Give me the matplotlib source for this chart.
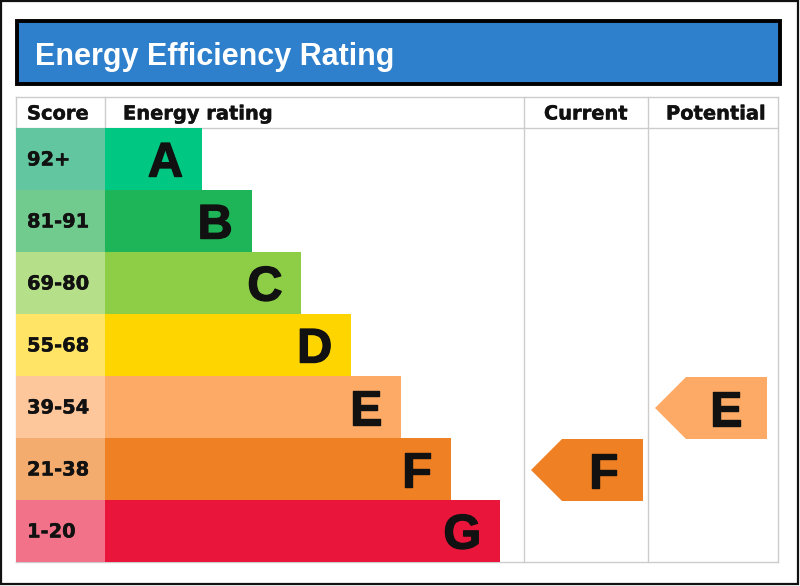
import matplotlib
matplotlib.use("Agg")
import matplotlib.pyplot as plt
from matplotlib.patches import Rectangle, Polygon
import matplotlib.patheffects as pe

# ---- data ----
ratings = ["A", "B", "C", "D", "E", "F", "G"]
score_ranges = ["92+", "81-91", "69-80", "55-68", "39-54", "21-38", "1-20"]
bar_colors = ["#00C781", "#1DB557", "#8DCE46", "#FFD500", "#FCAA65", "#EF8023", "#E9153B"]
score_colors = ["#62C6A0", "#72CB8E", "#B5DF89", "#FFE466", "#FDC69B", "#F4AC6E", "#F27289"]
current_rating = "F"
potential_rating = "E"
title = "Energy Efficiency Rating"
headers = ["Score", "Energy rating", "Current", "Potential"]

# ---- layout (pixels) ----
W, H = 800, 586
fig = plt.figure(figsize=(W / 100, H / 100), dpi=100)
ax = fig.add_axes([0, 0, 1, 1])
ax.set_xlim(0, W)
ax.set_ylim(H, 0)
ax.axis("off")

BOLD = "DejaVu Sans"
ARIAL = "Liberation Sans"
TXT = "#111111"
thick_small = [pe.withStroke(linewidth=0.3, foreground=TXT)]
thick_big = [pe.withStroke(linewidth=1.0, foreground=TXT)]

# outer frame
ax.add_patch(Rectangle((1, 1), W - 3, H - 3, fill=False, ec="#111111", lw=1.6))

# title box
ax.add_patch(Rectangle((16.5, 20.5), 763, 63, fc="#2E7FCC", ec="black", lw=2.8))
ax.text(35, 53, title, color="white", fontsize=22, fontweight="bold",
        family=ARIAL, va="center_baseline", ha="left")

# table geometry
tx0, tx1 = 16, 778
hy0, hy1 = 97, 128
row_h = 62
col_score_end = 105
col_cur = 524
col_pot = 648
ty1 = hy1 + row_h * len(ratings)
grid = "#CCCCCC"

# header text
hy = (hy0 + hy1) / 2 + 1.5
hfs = 14
ax.text(27, hy, headers[0], fontsize=hfs, fontweight="bold", family=BOLD, va="center", ha="left",
        color=TXT, path_effects=thick_small)
ax.text(123, hy, headers[1], fontsize=hfs, fontweight="bold", family=BOLD, va="center", ha="left",
        color=TXT, path_effects=thick_small)
ax.text((col_cur + col_pot) / 2, hy, headers[2], fontsize=hfs, fontweight="bold", family=BOLD,
        va="center", ha="center", color=TXT, path_effects=thick_small)
ax.text((col_pot + tx1) / 2 + 3, hy, headers[3], fontsize=hfs, fontweight="bold", family=BOLD,
        va="center", ha="center", color=TXT, path_effects=thick_small)

# bars
centers = [hy1 + row_h * (i + 0.5) for i in range(len(ratings))]
widths = [97 + 49.7 * i for i in range(len(ratings))]
ax.barh(centers, [col_score_end - tx0] * len(ratings), left=tx0, height=row_h,
        color=score_colors, edgecolor="none", zorder=2)
ax.barh(centers, widths, left=col_score_end, height=row_h,
        color=bar_colors, edgecolor="none", zorder=2)

cap = 35
for i, (r, s) in enumerate(zip(ratings, score_ranges)):
    ax.text(27, centers[i] + 1, s, fontsize=14, fontweight="bold", family=BOLD,
            va="center", ha="left", color=TXT, zorder=4, path_effects=thick_small)
    ax.text(col_score_end + widths[i] - 19, centers[i] + cap / 2, r, fontsize=35,
            fontweight="bold", family=ARIAL, va="baseline", ha="right", color=TXT, zorder=4,
            path_effects=thick_big)

# grid lines
lw = 1.0
ax.plot([tx0, tx1], [hy0, hy0], color=grid, lw=lw, zorder=1)
ax.plot([tx0, tx1], [hy1, hy1], color=grid, lw=lw, zorder=1)
ax.plot([tx0, tx1], [ty1, ty1], color=grid, lw=lw, zorder=1)
ax.plot([tx0, tx0], [hy0, ty1], color=grid, lw=lw, zorder=1)
ax.plot([col_score_end, col_score_end], [hy0, hy1], color=grid, lw=lw, zorder=1)
for x in (col_cur, col_pot, tx1):
    ax.plot([x, x], [hy0, ty1], color=grid, lw=lw, zorder=1)


def arrow(rating, x_tip, x_right):
    i = ratings.index(rating)
    top = hy1 + row_h * i + 1
    bot = top + row_h
    mid = (top + bot) / 2
    notch = 31
    pts = [(x_tip, mid), (x_tip + notch, top), (x_right, top), (x_right, bot), (x_tip + notch, bot)]
    ax.add_patch(Polygon(pts, closed=True, fc=bar_colors[i], ec="none", zorder=3))
    ax.text(x_right - 25, mid + cap / 2, rating, fontsize=35, fontweight="bold",
            family=ARIAL, va="baseline", ha="right", color=TXT, zorder=4,
            path_effects=thick_big)


arrow(current_rating, 531, 643)
arrow(potential_rating, 655, 767)

fig.savefig("out.png", dpi=100)
